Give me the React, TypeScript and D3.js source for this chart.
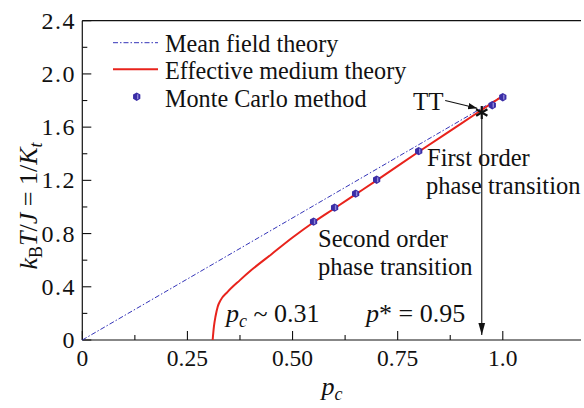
import React from "react";
import * as d3 from "d3";

const W = 584;
const H = 408;

// Data
const meanField: [number, number][] = [
  [0, 0],
  [1.0, 1.835],
];
const emtP = [0.31, 0.313, 0.317, 0.322, 0.329, 0.345, 0.375, 0.4, 0.45, 0.5, 0.55, 0.6, 0.65, 0.7, 0.8, 0.9, 1.0];
const emtT = [0.0, 0.1, 0.18, 0.25, 0.3, 0.36, 0.45, 0.52, 0.645, 0.77, 0.885, 0.99, 1.095, 1.2, 1.415, 1.625, 1.835];
const mcP = [0.55, 0.6, 0.65, 0.7, 0.8, 0.975, 1.0];
const mcT = [0.89, 0.995, 1.1, 1.205, 1.42, 1.765, 1.825];
const xMajor = [0, 0.25, 0.5, 0.75, 1.0];
const xMajorLabels = ["0", "0.25", "0.50", "0.75", "1.0"];
const xMinor = [0.125, 0.375, 0.625, 0.875];
const yMajor = [0, 0.4, 0.8, 1.2, 1.6, 2.0, 2.4];
const yMajorLabels = ["0", "0.4", "0.8", "1.2", "1.6", "2.0", "2.4"];
const yMinor = [0.2, 0.6, 1.0, 1.4, 1.8, 2.2];
const pStar = 0.95;
const ttPoint: [number, number] = [0.95, 1.71];

const FONT = "'Liberation Serif', 'Times New Roman', serif";
const BLUE = "#3434b8";
const RED = "#e8231c";
const MC_FILL = "#3a2da6";

export default function App() {
  const x = d3.scaleLinear().domain([0, 1.186]).range([82.3, 581]);
  const y = d3.scaleLinear().domain([0, 2.4]).range([340, 20.7]);

  const line = d3
    .line<[number, number]>()
    .x((d) => x(d[0]))
    .y((d) => y(d[1]));
  const emt: [number, number][] = emtP.map((p, i) => [p, emtT[i]]);
  const emtLine = d3
    .line<[number, number]>()
    .x((d) => x(d[0]))
    .y((d) => y(d[1]))
    .curve(d3.curveMonotoneX);

  const hexPath = (cx: number, cy: number, r: number) => {
    const pts = d3.range(6).map((i) => {
      const a = (Math.PI / 3) * i + Math.PI / 6;
      return [cx + r * Math.cos(a), cy + r * Math.sin(a)];
    });
    return "M" + pts.map((p) => p.join(",")).join("L") + "Z";
  };

  const Marker = ({ cx, cy }: { cx: number; cy: number }) => (
    <g>
      <path d={hexPath(cx, cy, 4.2)} fill={MC_FILL} />
      <rect x={cx + 0.3} y={cy - 2.4} width={1.4} height={4.8} fill="#8f86d8" />
    </g>
  );

  const x0 = x(0);
  const y0 = y(0);
  const xEnd = 581;
  const yTop = y(2.4);

  const sx = x(ttPoint[0]);
  const sy = y(ttPoint[1]);

  return (
    <svg
      width={W}
      height={H}
      style={{ position: "absolute", left: 0, top: 0, background: "#fff", fontFamily: FONT }}
    >
      <defs>
        <marker id="ah" viewBox="0 0 10 10" refX="10" refY="5" markerWidth="9" markerHeight="9" orient="auto" markerUnits="userSpaceOnUse">
          <path d="M0,1.5 L10,5 L0,8.5 Z" fill="#111" />
        </marker>
        <marker id="ah2" viewBox="0 0 10 10" refX="10" refY="5" markerWidth="12" markerHeight="12" orient="auto" markerUnits="userSpaceOnUse">
          <path d="M0,2.2 L10,5 L0,7.8 Z" fill="#111" />
        </marker>
      </defs>

      {/* Axes frame */}
      <line x1={x0} x2={x0} y1={yTop} y2={y0} stroke="#111" strokeWidth={1.2} />
      <line x1={x0} x2={xEnd} y1={y0} y2={y0} stroke="#111" strokeWidth={1.2} />
      <line x1={x0} x2={xEnd} y1={yTop} y2={yTop} stroke="#111" strokeWidth={1.2} />

      {/* X ticks */}
      {xMajor.map((v, i) => (
        <g key={"xm" + i}>
          <line x1={x(v)} x2={x(v)} y1={y0} y2={y0 - 9} stroke="#111" strokeWidth={1.1} />
          <text x={x(v)} y={366} fontSize={23.5} textAnchor="middle" fill="#111">
            {xMajorLabels[i]}
          </text>
        </g>
      ))}
      {xMinor.map((v, i) => (
        <line key={"xn" + i} x1={x(v)} x2={x(v)} y1={y0} y2={y0 - 5} stroke="#111" strokeWidth={1.1} />
      ))}

      {/* Y ticks */}
      {yMajor.map((v, i) => (
        <g key={"ym" + i}>
          <line x1={x0} x2={x0 + 9} y1={y(v)} y2={y(v)} stroke="#111" strokeWidth={1.1} />
          <text x={76} y={y(v) + 8} fontSize={24} letterSpacing={1.5} textAnchor="end" fill="#111">
            {yMajorLabels[i]}
          </text>
        </g>
      ))}
      {yMinor.map((v, i) => (
        <line key={"yn" + i} x1={x0} x2={x0 + 5} y1={y(v)} y2={y(v)} stroke="#111" strokeWidth={1.1} />
      ))}

      {/* Axis labels */}
      <text x={332} y={395} fontSize={26} textAnchor="middle" fill="#111">
        <tspan fontStyle="italic">p</tspan>
        <tspan fontStyle="italic" fontSize={18} dy={5}>c</tspan>
      </text>
      <text transform="translate(37,206) rotate(-90)" fontSize={26} textAnchor="middle" fill="#111">
        <tspan fontStyle="italic">k</tspan>
        <tspan fontSize={18} dy={5}>B</tspan>
        <tspan fontStyle="italic" dy={-5}>T</tspan>
        <tspan>/</tspan>
        <tspan fontStyle="italic">J</tspan>
        <tspan> = 1/</tspan>
        <tspan fontStyle="italic">K</tspan>
        <tspan fontStyle="italic" fontSize={18} dy={5}>t</tspan>
      </text>

      {/* Mean field line */}
      <path d={line(meanField) || ""} fill="none" stroke={BLUE} strokeWidth={1} strokeDasharray="5,2,1.5,2" />

      {/* EMT curve */}
      <path d={emtLine(emt) || ""} fill="none" stroke={RED} strokeWidth={2} />

      {/* MC markers */}
      {mcP.map((p, i) => (
        <Marker key={"mc" + i} cx={x(p)} cy={y(mcT[i])} />
      ))}

      {/* Vertical arrow p* */}
      <line x1={x(pStar)} x2={x(pStar)} y1={sy + 4} y2={335} stroke="#111" strokeWidth={1.1} markerEnd="url(#ah2)" />

      {/* Asterisk */}
      <g stroke="#111" strokeWidth={2.2}>
        {[90, 30, 150].map((a) => {
          const r = 6.5;
          const dx = r * Math.cos((a * Math.PI) / 180);
          const dy = r * Math.sin((a * Math.PI) / 180);
          return <line key={a} x1={sx - dx} y1={sy - dy} x2={sx + dx} y2={sy + dy} />;
        })}
      </g>

      {/* TT annotation */}
      <text x={413} y={110} fontSize={25} fill="#111">TT</text>
      <line x1={x(0.863)} y1={y(1.8)} x2={x(0.939)} y2={y(1.742)} stroke="#111" strokeWidth={1.1} markerEnd="url(#ah)" />

      {/* Text annotations */}
      <text x={427} y={166} fontSize={24.5} fill="#111">First order</text>
      <text x={426} y={194} fontSize={24.5} fill="#111">phase transition</text>
      <text x={318} y={247} fontSize={24.5} fill="#111">Second order</text>
      <text x={318} y={275} fontSize={24.5} fill="#111">phase transition</text>
      <text x={226} y={322} fontSize={26} fill="#111">
        <tspan fontStyle="italic">p</tspan>
        <tspan fontStyle="italic" fontSize={18} dy={5}>c</tspan>
        <tspan dy={-5}> ~ 0.31</tspan>
      </text>
      <text x={366} y={322} fontSize={26} fill="#111">
        <tspan fontStyle="italic">p</tspan>
        <tspan>* = 0.95</tspan>
      </text>

      {/* Legend */}
      <line x1={113} x2={158} y1={42.7} y2={42.7} stroke={BLUE} strokeWidth={1} strokeDasharray="5,2,1.5,2" />
      <text x={165} y={52} fontSize={24.2} fill="#111">Mean field theory</text>
      <line x1={113} x2={158} y1={69.3} y2={69.3} stroke={RED} strokeWidth={2} />
      <text x={165} y={79} fontSize={24.2} fill="#111">Effective medium theory</text>
      <Marker cx={136.7} cy={96.7} />
      <text x={165} y={107} fontSize={24.2} fill="#111">Monte Carlo method</text>
    </svg>
  );
}
